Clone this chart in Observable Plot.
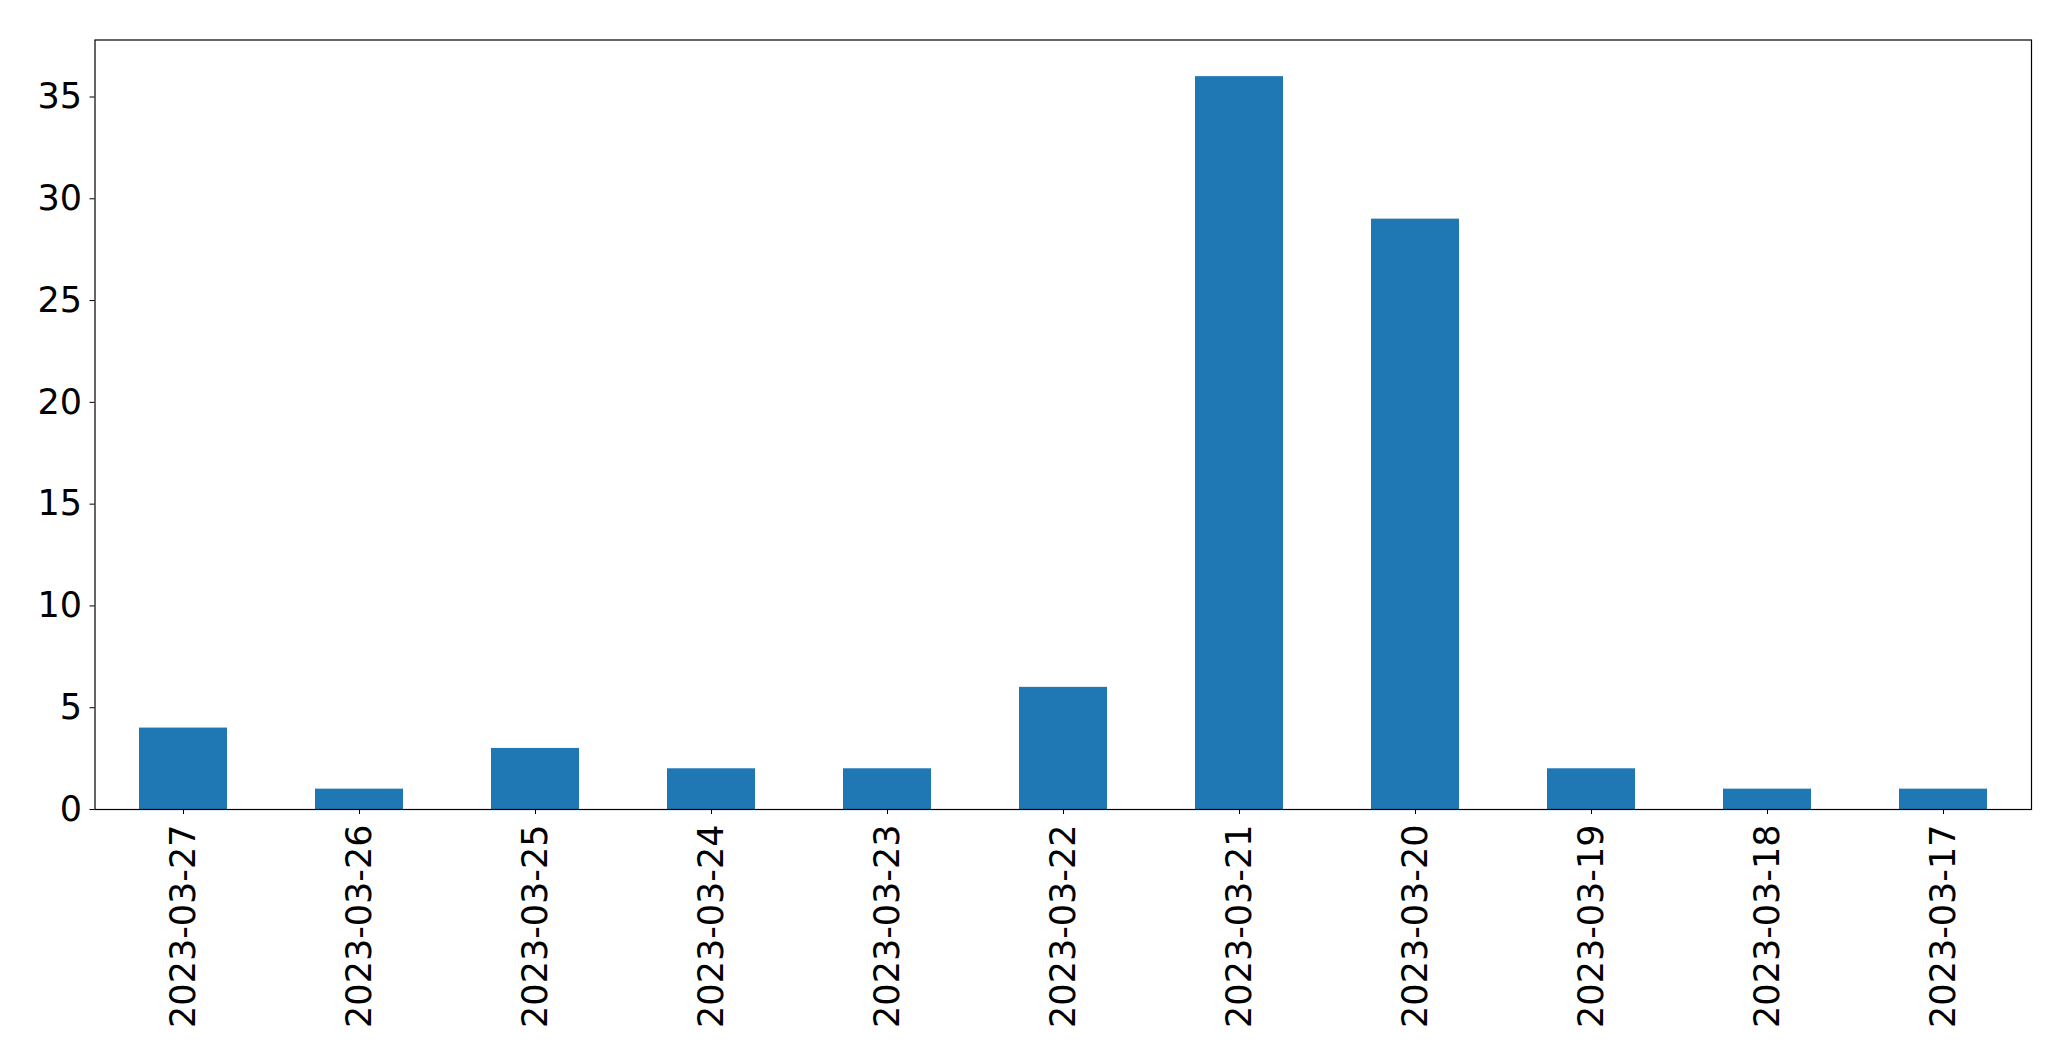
<!DOCTYPE html>
<html>
<head>
<meta charset="utf-8">
<script src="https://cdn.jsdelivr.net/npm/d3@7"></script>
<script src="https://cdn.jsdelivr.net/npm/@observablehq/plot@0.6"></script>
<style>
  html, body { margin: 0; padding: 0; background: #fff; }
  #chart svg { display: block; }
</style>
</head>
<body>
<div id="chart"></div>
<script>
const dates = ["2023-03-27","2023-03-26","2023-03-25","2023-03-24","2023-03-23","2023-03-22","2023-03-21","2023-03-20","2023-03-19","2023-03-18","2023-03-17"];
const counts = [4, 1, 3, 2, 2, 6, 36, 29, 2, 1, 1];
const yTicks = [0, 5, 10, 15, 20, 25, 30, 35];

const data = dates.map((d, i) => ({date: d, count: counts[i]}));

const chart = Plot.plot({
  width: 2071,
  height: 1061,
  marginLeft: 94.5,
  marginRight: 40,
  marginTop: 39.5,
  marginBottom: 252,
  style: {fontFamily: "DejaVu Sans", fontSize: "35px", color: "#000", background: "#fff"},
  x: {domain: dates, paddingInner: 0.5, paddingOuter: 0.25, label: null},
  y: {domain: [0, 37.8], label: null},
  marks: [
    Plot.barY(data, {x: "date", y: "count", fill: "#1f77b4"}),
    Plot.axisY({ticks: yTicks, tickSize: 5, tickPadding: 8, fontSize: 35, label: null, stroke: "#000"}),
    Plot.axisX({tickSize: 5, tickPadding: 10, tickRotate: -90, fontSize: 35, label: null}),
    Plot.frame({stroke: "#000", strokeWidth: 1.2})
  ]
});
document.getElementById("chart").appendChild(chart);
</script>
</body>
</html>
